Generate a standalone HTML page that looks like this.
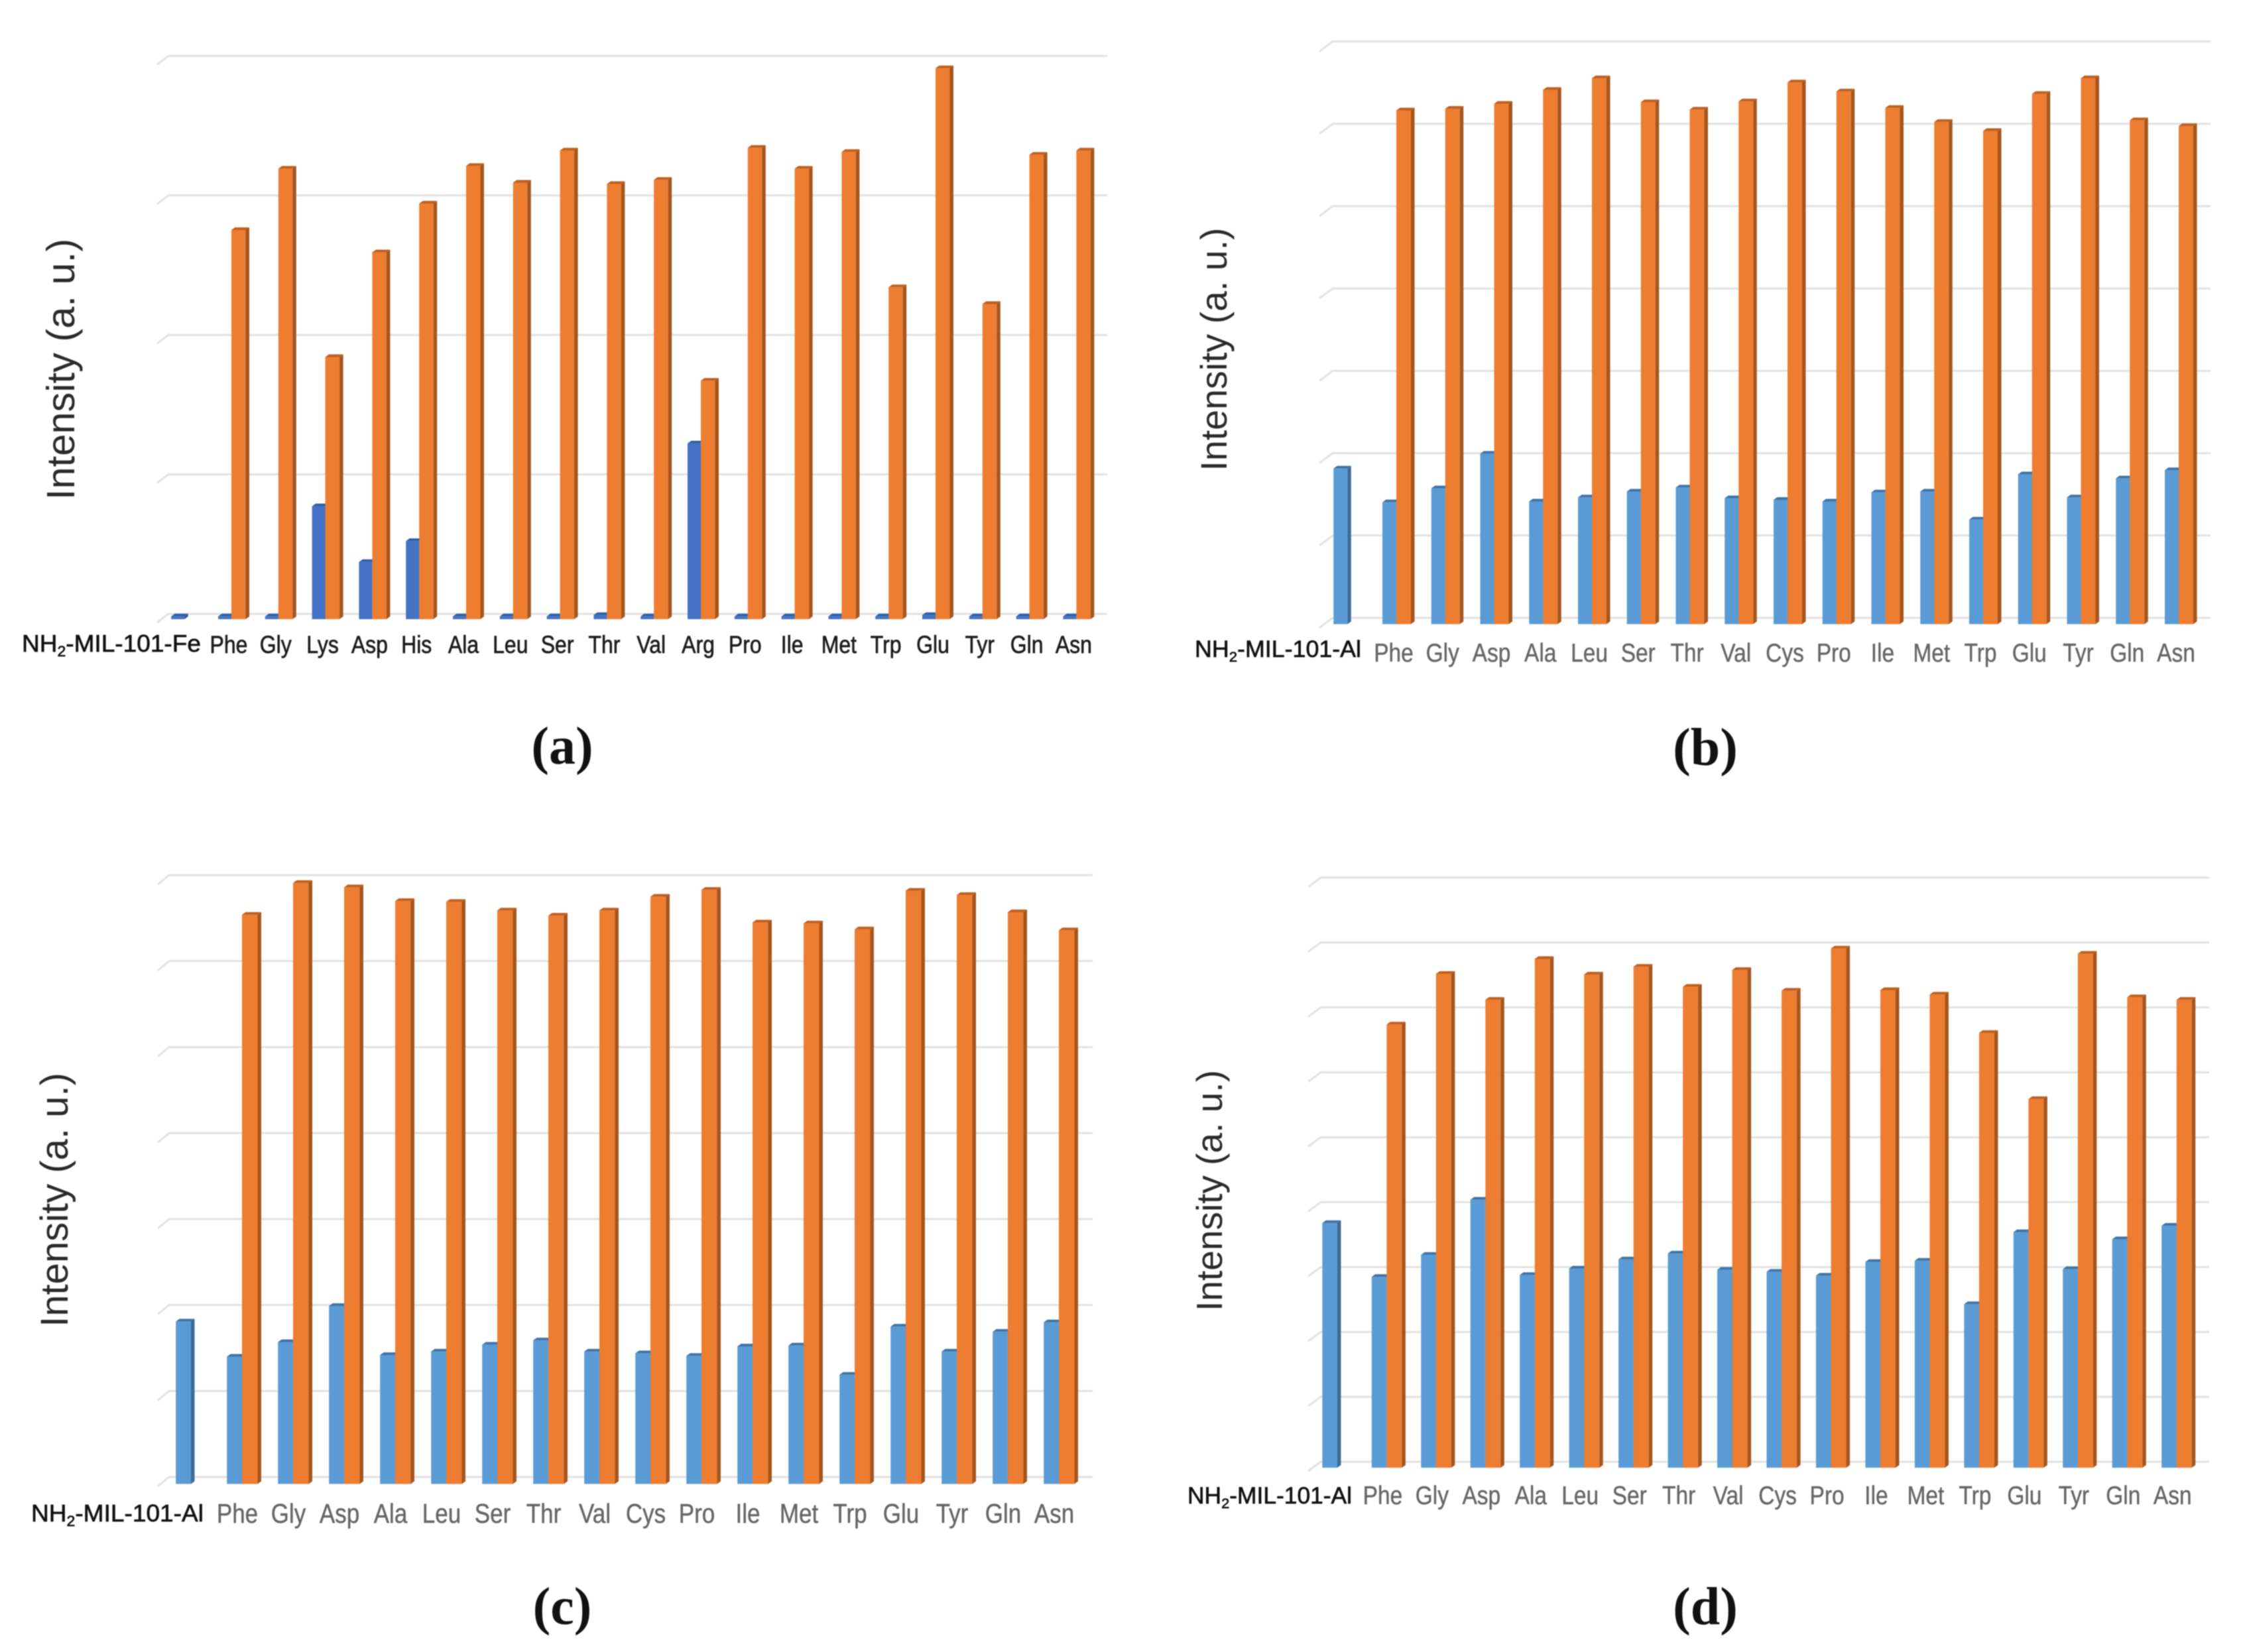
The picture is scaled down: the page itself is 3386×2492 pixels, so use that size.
<!DOCTYPE html>
<html lang="en">
<head>
<meta charset="utf-8">
<title>Amino acid intensity bar charts</title>
<style>
html,body{margin:0;padding:0;background:#fff;}
body{width:3386px;height:2492px;overflow:hidden;}
svg{display:block;filter:blur(0.8px);}
.ytitle{font-family:"Liberation Sans",sans-serif;fill:#2a2a2a;text-anchor:middle;}
.caption{font-family:"Liberation Serif",serif;font-weight:bold;fill:#111;text-anchor:middle;}
.cat{font-family:"Liberation Sans",sans-serif;text-anchor:middle;}
.first{font-family:"Liberation Sans",sans-serif;fill:#111;stroke:#111;stroke-width:0.6px;}
</style>
</head>
<body>
<svg id="figure" xmlns="http://www.w3.org/2000/svg" width="3386" height="2492" viewBox="0 0 3386 2492">
  <rect x="0" y="0" width="3386" height="2492" fill="#ffffff"/>
  <g id="panel-a"></g>
  <g id="panel-b"></g>
  <g id="panel-c"></g>
  <g id="panel-d"></g>

  <text class="ytitle" font-size="59.6" transform="translate(112,557) rotate(-90)">Intensity (a. u.)</text>
  <text class="ytitle" font-size="55.5" transform="translate(1850,527) rotate(-90)">Intensity (a. u.)</text>
  <text class="ytitle" font-size="58" transform="translate(102,1810) rotate(-90)">Intensity (a. u.)</text>
  <text class="ytitle" font-size="55" transform="translate(1843,1796) rotate(-90)">Intensity (a. u.)</text>

  <text class="caption" font-size="80" x="848" y="1152">(a)</text>
  <text class="caption" font-size="80" x="2572" y="1154">(b)</text>
  <text class="caption" font-size="80" x="848" y="2450">(c)</text>
  <text class="caption" font-size="80" x="2572" y="2450">(d)</text>
</svg>
<script>
// Chart data: one gridline interval = 100 intensity units
const categoriesA = ["Phe","Gly","Lys","Asp","His","Ala","Leu","Ser","Thr","Val","Arg","Pro","Ile","Met","Trp","Glu","Tyr","Gln","Asn"];
const categoriesBCD = ["Phe","Gly","Asp","Ala","Leu","Ser","Thr","Val","Cys","Pro","Ile","Met","Trp","Glu","Tyr","Gln","Asn"];

const blueA = [2,2,2,81,41,56,2,2,2,3,2,126,2,2,2,2,3,2,2,2];
const orangeA = [null,279,323,188,263,298,325,313,336,312,315,171,338,323,335,238,395,226,333,336];

const blueB = [189,148,165,207,149,154,161,166,153,151,149,160,161,127,182,154,177,187];
const orangeB = [null,624,626,632,649,663,634,625,635,658,647,627,610,599,644,663,612,605];

const blueC = [189,148,165,207,150,154,162,167,154,152,149,160,161,127,183,154,177,188];
const orangeC = [null,662,699,694,678,677,667,661,667,683,691,653,652,645,690,685,665,644];

const blueD = [377,294,328,413,297,307,321,330,305,302,296,317,319,252,363,306,352,373];
const orangeD = [null,683,761,721,784,760,772,741,767,735,800,736,729,670,568,792,725,721];

const NS = 'http://www.w3.org/2000/svg';

const panels = [
  {id:'a', cats:categoriesA, blue:blueA, orange:orangeA, firstTail:'-MIL-101-Fe',
   x0:278.2, step:70.8, blueW:20, orangeW:21.5, base:934, gridBottom:926, gridStep:210.4, gridN:4,
   gridBackX:254, gridFrontX:237, gridRight:1670, gridDy:13,
   blueFill:'#4472c4', blueSide:'#2f5597', blueCap:'#2f5fa8',
   labelColor:'#1c1c1c', labelStroke:0.6, labelSize:32, labelY:985, labelShift:-4,
   firstX:33, firstLen:270, firstSize:31, firstY:983},
  {id:'b', cats:categoriesBCD, blue:blueB, orange:orangeB, firstTail:'-MIL-101-Al',
   x0:2032.25, step:73.75, blueW:21, orangeW:22, base:941.5, gridBottom:932, gridStep:124.2, gridN:7,
   gridBackX:2010, gridFrontX:1990, gridRight:3334, gridDy:15,
   blueFill:'#5b9bd5', blueSide:'#3d6b94', blueCap:'#3f74a6',
   labelColor:'#666666', labelStroke:0.4, labelSize:33.5, labelY:998, labelShift:-4,
   firstX:1802, firstLen:251, firstSize:30, firstY:991},
  {id:'c', cats:categoriesBCD, blue:blueC, orange:orangeC, firstTail:'-MIL-101-Al',
   x0:288, step:77, blueW:22.8, orangeW:23.5, base:2238.5, gridBottom:2228, gridStep:129.7, gridN:7,
   gridBackX:255, gridFrontX:238, gridRight:1648, gridDy:14,
   blueFill:'#5b9bd5', blueSide:'#3d6b94', blueCap:'#3f74a6',
   labelColor:'#666666', labelStroke:0.4, labelSize:35, labelY:2297, labelShift:-7,
   firstX:47, firstLen:260, firstSize:31, firstY:2295},
  {id:'d', cats:categoriesBCD, blue:blueD, orange:orangeD, firstTail:'-MIL-101-Al',
   x0:2016.94, step:74.46, blueW:22.6, orangeW:23, base:2214, gridBottom:2205, gridStep:97.9, gridN:9,
   gridBackX:1992, gridFrontX:1973, gridRight:3332, gridDy:14,
   blueFill:'#5b9bd5', blueSide:'#3d6b94', blueCap:'#3f74a6',
   labelColor:'#666666', labelStroke:0.4, labelSize:33.5, labelY:2269, labelShift:-6,
   firstX:1791, firstLen:248, firstSize:30, firstY:2268}
];

const DX = 5.5, DY = 4;
const LABEL_STRETCH = 1.16;

function svgEl(tag, parent) {
  const el = document.createElementNS(NS, tag);
  parent.appendChild(el);
  return el;
}
function yScale(p, v) { return p.base - v * p.gridStep / 100; }
function xOrange(p, i) { return p.x0 + i * p.step; }

function drawBar(parent, x, w, top, base, fill, side, cap) {
  const front = svgEl('rect', parent);
  
  
  front.setAttribute('x', x);
  front.setAttribute('y', top);
  front.setAttribute('width', w);
  front.setAttribute('height', Math.max(base - top, 0));
  front.setAttribute('fill', fill);
  const s = svgEl('polygon', parent);
  
  
  s.setAttribute('points', [[x+w,top],[x+w+DX,top-DY],[x+w+DX,base-DY],[x+w,base]].map(q => q.join(',')).join(' '));
  s.setAttribute('fill', side);
  const c = svgEl('polygon', parent);
  
  
  c.setAttribute('points', [[x,top],[x+DX,top-DY],[x+w+DX,top-DY],[x+w,top]].map(q => q.join(',')).join(' '));
  c.setAttribute('fill', cap);
}

panels.forEach(function (p) {
  const g = document.getElementById('panel-' + p.id);

  // gridlines
  for (let k = 0; k <= p.gridN; k++) {
    const y = p.gridBottom - k * p.gridStep;
    const line = svgEl('polyline', g);
    
    
    line.setAttribute('points', p.gridFrontX + ',' + (y + p.gridDy) + ' ' + p.gridBackX + ',' + y + ' ' + p.gridRight + ',' + y);
    line.setAttribute('fill', 'none');
    line.setAttribute('stroke', '#e2e2e2');
    line.setAttribute('stroke-width', '3');
  }

  // bars
  p.blue.forEach(function (v, i) {
    const left = xOrange(p, i) - p.blueW;
    const bar = svgEl('g', g);
    
    
    drawBar(bar, left, p.blueW, yScale(p, v), p.base, p.blueFill, p.blueSide, p.blueCap);
  });
  p.orange.forEach(function (v, i) {
    if (v === null) return;
    const bar = svgEl('g', g);
    
    
    drawBar(bar, xOrange(p, i), p.orangeW, yScale(p, v), p.base, '#ed7d31', '#a5561f', '#c0601f');
  });

  // first category label with subscript
  const first = svgEl('text', g);
  
  
  first.setAttribute('class', 'first');
  first.setAttribute('transform', 'translate(' + p.firstX + ',' + p.firstY + ') scale(1,' + LABEL_STRETCH + ')');
  first.setAttribute('font-size', p.firstSize);
  first.setAttribute('textLength', p.firstLen);
  first.setAttribute('lengthAdjust', 'spacingAndGlyphs');
  first.appendChild(document.createTextNode('NH'));
  const sub = svgEl('tspan', first);
  sub.setAttribute('font-size', p.firstSize * 0.62);
  sub.setAttribute('dy', 6);
  sub.textContent = '2';
  const tail = svgEl('tspan', first);
  tail.setAttribute('dy', -6);
  tail.textContent = p.firstTail;

  // other category labels
  p.cats.forEach(function (name, i) {
    const t = svgEl('text', g);
    
    
    t.setAttribute('class', 'cat');
    t.setAttribute('transform', 'translate(' + (xOrange(p, i + 1) + p.labelShift) + ',' + p.labelY + ') scale(1,' + LABEL_STRETCH + ')');
    t.setAttribute('font-size', p.labelSize);
    t.setAttribute('fill', p.labelColor);
    t.setAttribute('stroke', p.labelColor);
    t.setAttribute('stroke-width', p.labelStroke);
    t.textContent = name;
  });
});
</script>
</body>
</html>
